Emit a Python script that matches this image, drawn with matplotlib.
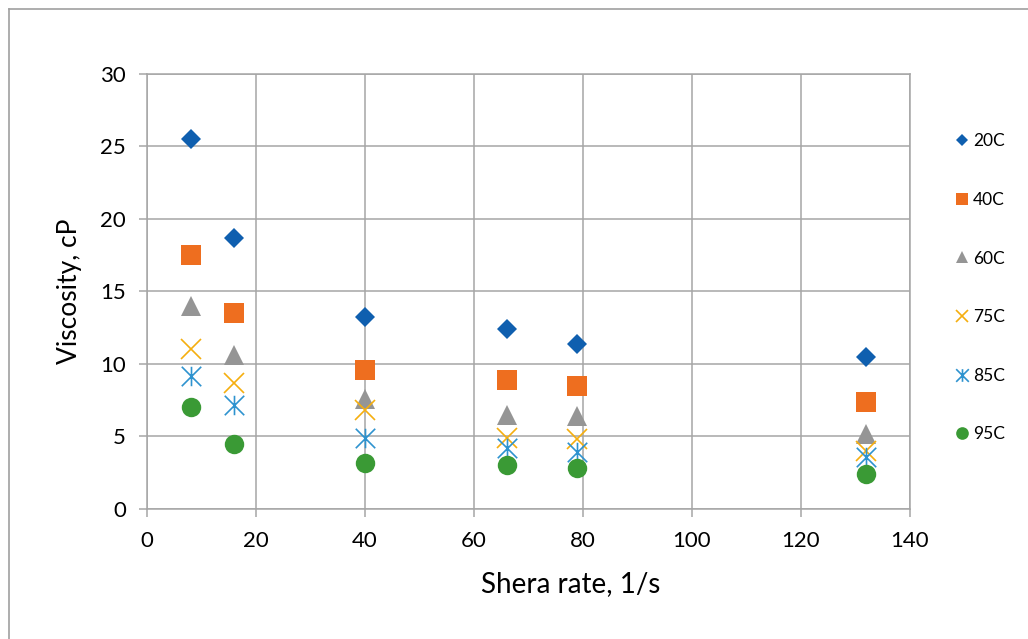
import matplotlib.pyplot as plt
from matplotlib.lines import Line2D
from matplotlib.path import Path

# Shear rate (1/s) and measured viscosity (cP) at each temperature
shear_rate = [8, 16, 40, 66, 79, 132]
visc_20 = [25.5, 18.7, 13.2, 12.4, 11.4, 10.5]
visc_40 = [17.5, 13.5, 9.6, 8.9, 8.5, 7.4]
visc_60 = [14.0, 10.6, 7.6, 6.5, 6.4, 5.2]
visc_75 = [11.0, 8.7, 6.8, 4.9, 4.8, 4.0]
visc_85 = [9.2, 7.2, 4.9, 4.2, 3.9, 3.6]
visc_95 = [7.0, 4.5, 3.2, 3.0, 2.8, 2.4]
labels = ['20C', '40C', '60C', '75C', '85C', '95C']

plt.rcParams['font.family'] = ['Lato', 'DejaVu Sans']

# Excel style "star": an x with a vertical stroke through it
star = Path([(-0.5, -0.5), (0.5, 0.5), (-0.5, 0.5), (0.5, -0.5), (0, -0.5), (0, 0.5)],
            [Path.MOVETO, Path.LINETO, Path.MOVETO, Path.LINETO, Path.MOVETO, Path.LINETO])

styles = [
    dict(marker='D', color='#0F5FAF', ms=10, mew=0),
    dict(marker='s', color='#EE6E1F', ms=14, mew=0),
    dict(marker='^', color='#959595', ms=14, mew=0),
    dict(marker='x', color='#F5AE0F', ms=14, mew=1.2),
    dict(marker=star, color='#2E93CF', ms=14, mew=1.2),
    dict(marker='o', color='#3A9A35', ms=14, mew=0),
]
series = [visc_20, visc_40, visc_60, visc_75, visc_85, visc_95]

fig = plt.figure(figsize=(10.28, 6.39), dpi=100)
ax = fig.add_axes([0.143, 0.2035, 0.742, 0.681])

for vals, st, lab in zip(series, styles, labels):
    ax.plot(shear_rate, vals, linestyle='none', label=lab, zorder=3, **st)

ax.set_xlim(0, 140)
ax.set_ylim(0, 30)
ax.set_xticks(range(0, 141, 20))
ax.set_yticks(range(0, 31, 5))
ax.grid(True, color='#A6A6A6', lw=1.1)
ax.set_axisbelow(True)
for s in ax.spines.values():
    s.set_color('#A6A6A6')
    s.set_linewidth(1.1)
ax.tick_params(direction='out', length=6, width=1.1, color='#A6A6A6',
               labelsize=16)
ax.tick_params(axis='x', pad=10)
ax.tick_params(axis='y', pad=9)
ax.set_xlabel('Shera rate, 1/s', fontsize=20)
ax.xaxis.set_label_coords(0.555, -0.142)
ax.set_ylabel('Viscosity, cP', fontsize=19, labelpad=13)

# Legend on the right with generous vertical spacing
handles = []
for st, lab in zip(styles, labels):
    h = dict(st)
    h['ms'] = st['ms'] * 0.65
    handles.append(Line2D([], [], linestyle='none', label=lab, **h))
fig.legend(handles=handles, loc='upper left', bbox_to_anchor=(0.921, 0.802),
           frameon=False, fontsize=12.5, labelspacing=2.45, handletextpad=0.1,
           handlelength=1.0, borderaxespad=0)

# Chart frame (top and left edges)
fig.add_artist(Line2D([0.009, 1.0], [0.986, 0.986], color='#A0A0A0', lw=1.2,
                      transform=fig.transFigure))
fig.add_artist(Line2D([0.009, 0.009], [0.0, 0.986], color='#A0A0A0', lw=1.2,
                      transform=fig.transFigure))

fig.savefig('out.png', dpi=100)
